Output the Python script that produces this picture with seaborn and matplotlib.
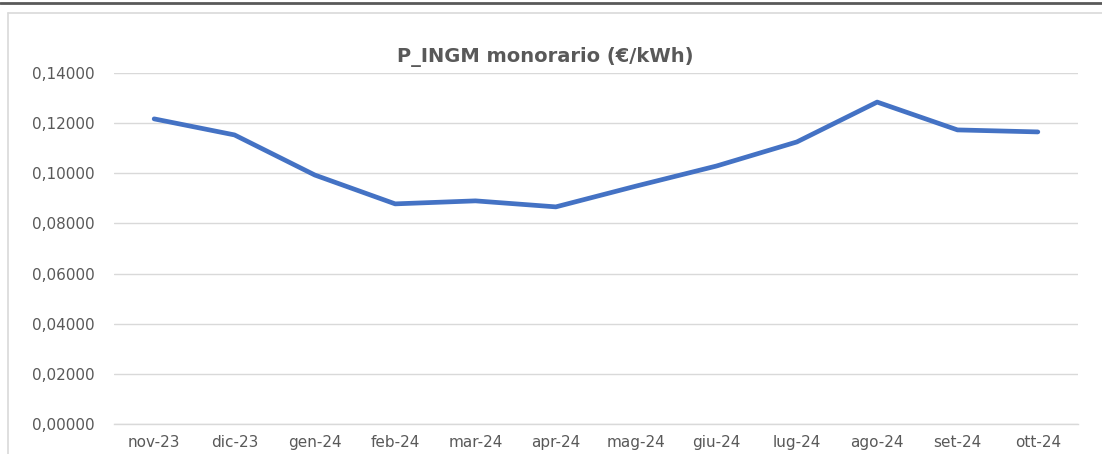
import matplotlib
matplotlib.use("Agg")
import matplotlib.pyplot as plt
import seaborn as sns
import pandas as pd
from matplotlib.lines import Line2D
from matplotlib.ticker import FuncFormatter, FixedLocator

# -----------------------------------
# Data
# -----------------------------------
months = ["nov-23", "dic-23", "gen-24", "feb-24", "mar-24", "apr-24",
          "mag-24", "giu-24", "lug-24", "ago-24", "set-24", "ott-24"]
prices = [0.1217, 0.1153, 0.0993, 0.0878, 0.0890, 0.0866,
          0.0949, 0.1029, 0.1125, 0.1284, 0.1173, 0.1165]

df = pd.DataFrame({"mese": months, "prezzo": prices})

sns.set_style("white")
plt.rcParams["font.family"] = ["DejaVu Sans"]

W, H = 1102, 454
fig = plt.figure(figsize=(W / 100, H / 100), dpi=100)
ax = fig.add_axes([114 / W, 1 - 424 / H, (1078 - 114) / W, (424 - 73) / H])

sns.lineplot(data=df, x="mese", y="prezzo", sort=False, ax=ax,
             color="#4472C4", linewidth=3.4, solid_capstyle="round")

# -----------------------------------
# Axes styling (Excel look)
# -----------------------------------
gray_txt = "#595959"
grid_c = "#D9D9D9"

ax.set_ylim(0, 0.14)
ax.set_xlim(-0.5, len(months) - 0.5)
ax.set_yticks([i * 0.02 for i in range(8)])
ax.yaxis.set_major_formatter(FuncFormatter(lambda v, p: f"{v:.5f}".replace(".", ",")))
ax.grid(axis="y", color=grid_c, linewidth=1)
ax.set_axisbelow(True)

ax.set_xticks(range(len(months)))
ax.set_xticklabels(months)
ax.xaxis.set_minor_locator(FixedLocator([i - 0.5 for i in range(len(months) + 1)]))
ax.tick_params(axis="x", which="major", length=0, pad=8, labelsize=11, colors=gray_txt)
ax.tick_params(axis="x", which="minor", length=4, width=1, color=grid_c)
ax.tick_params(axis="y", length=0, pad=14, labelsize=11, colors=gray_txt)

for side in ["top", "right", "left"]:
    ax.spines[side].set_visible(False)
ax.spines["bottom"].set_color(grid_c)
ax.spines["bottom"].set_linewidth(1)

ax.set_xlabel("")
ax.set_ylabel("")

fig.text(545 / W, 1 - 57 / H, "P_INGM monorario (€/kWh)", ha="center", va="center",
         fontsize=14, fontweight="bold", color=gray_txt)

# -----------------------------------
# Frame lines around the chart
# -----------------------------------
fig.add_artist(Line2D([0, 1], [1 - 2.5 / H, 1 - 2.5 / H], color="#595959", linewidth=2))
fig.add_artist(Line2D([8 / W, 1], [1 - 12.5 / H, 1 - 12.5 / H], color="#D9D9D9", linewidth=1.2))
fig.add_artist(Line2D([8 / W, 8 / W], [1 - 12.5 / H, 0], color="#D9D9D9", linewidth=1.2))

fig.savefig("out.png", dpi=100, facecolor="white")
